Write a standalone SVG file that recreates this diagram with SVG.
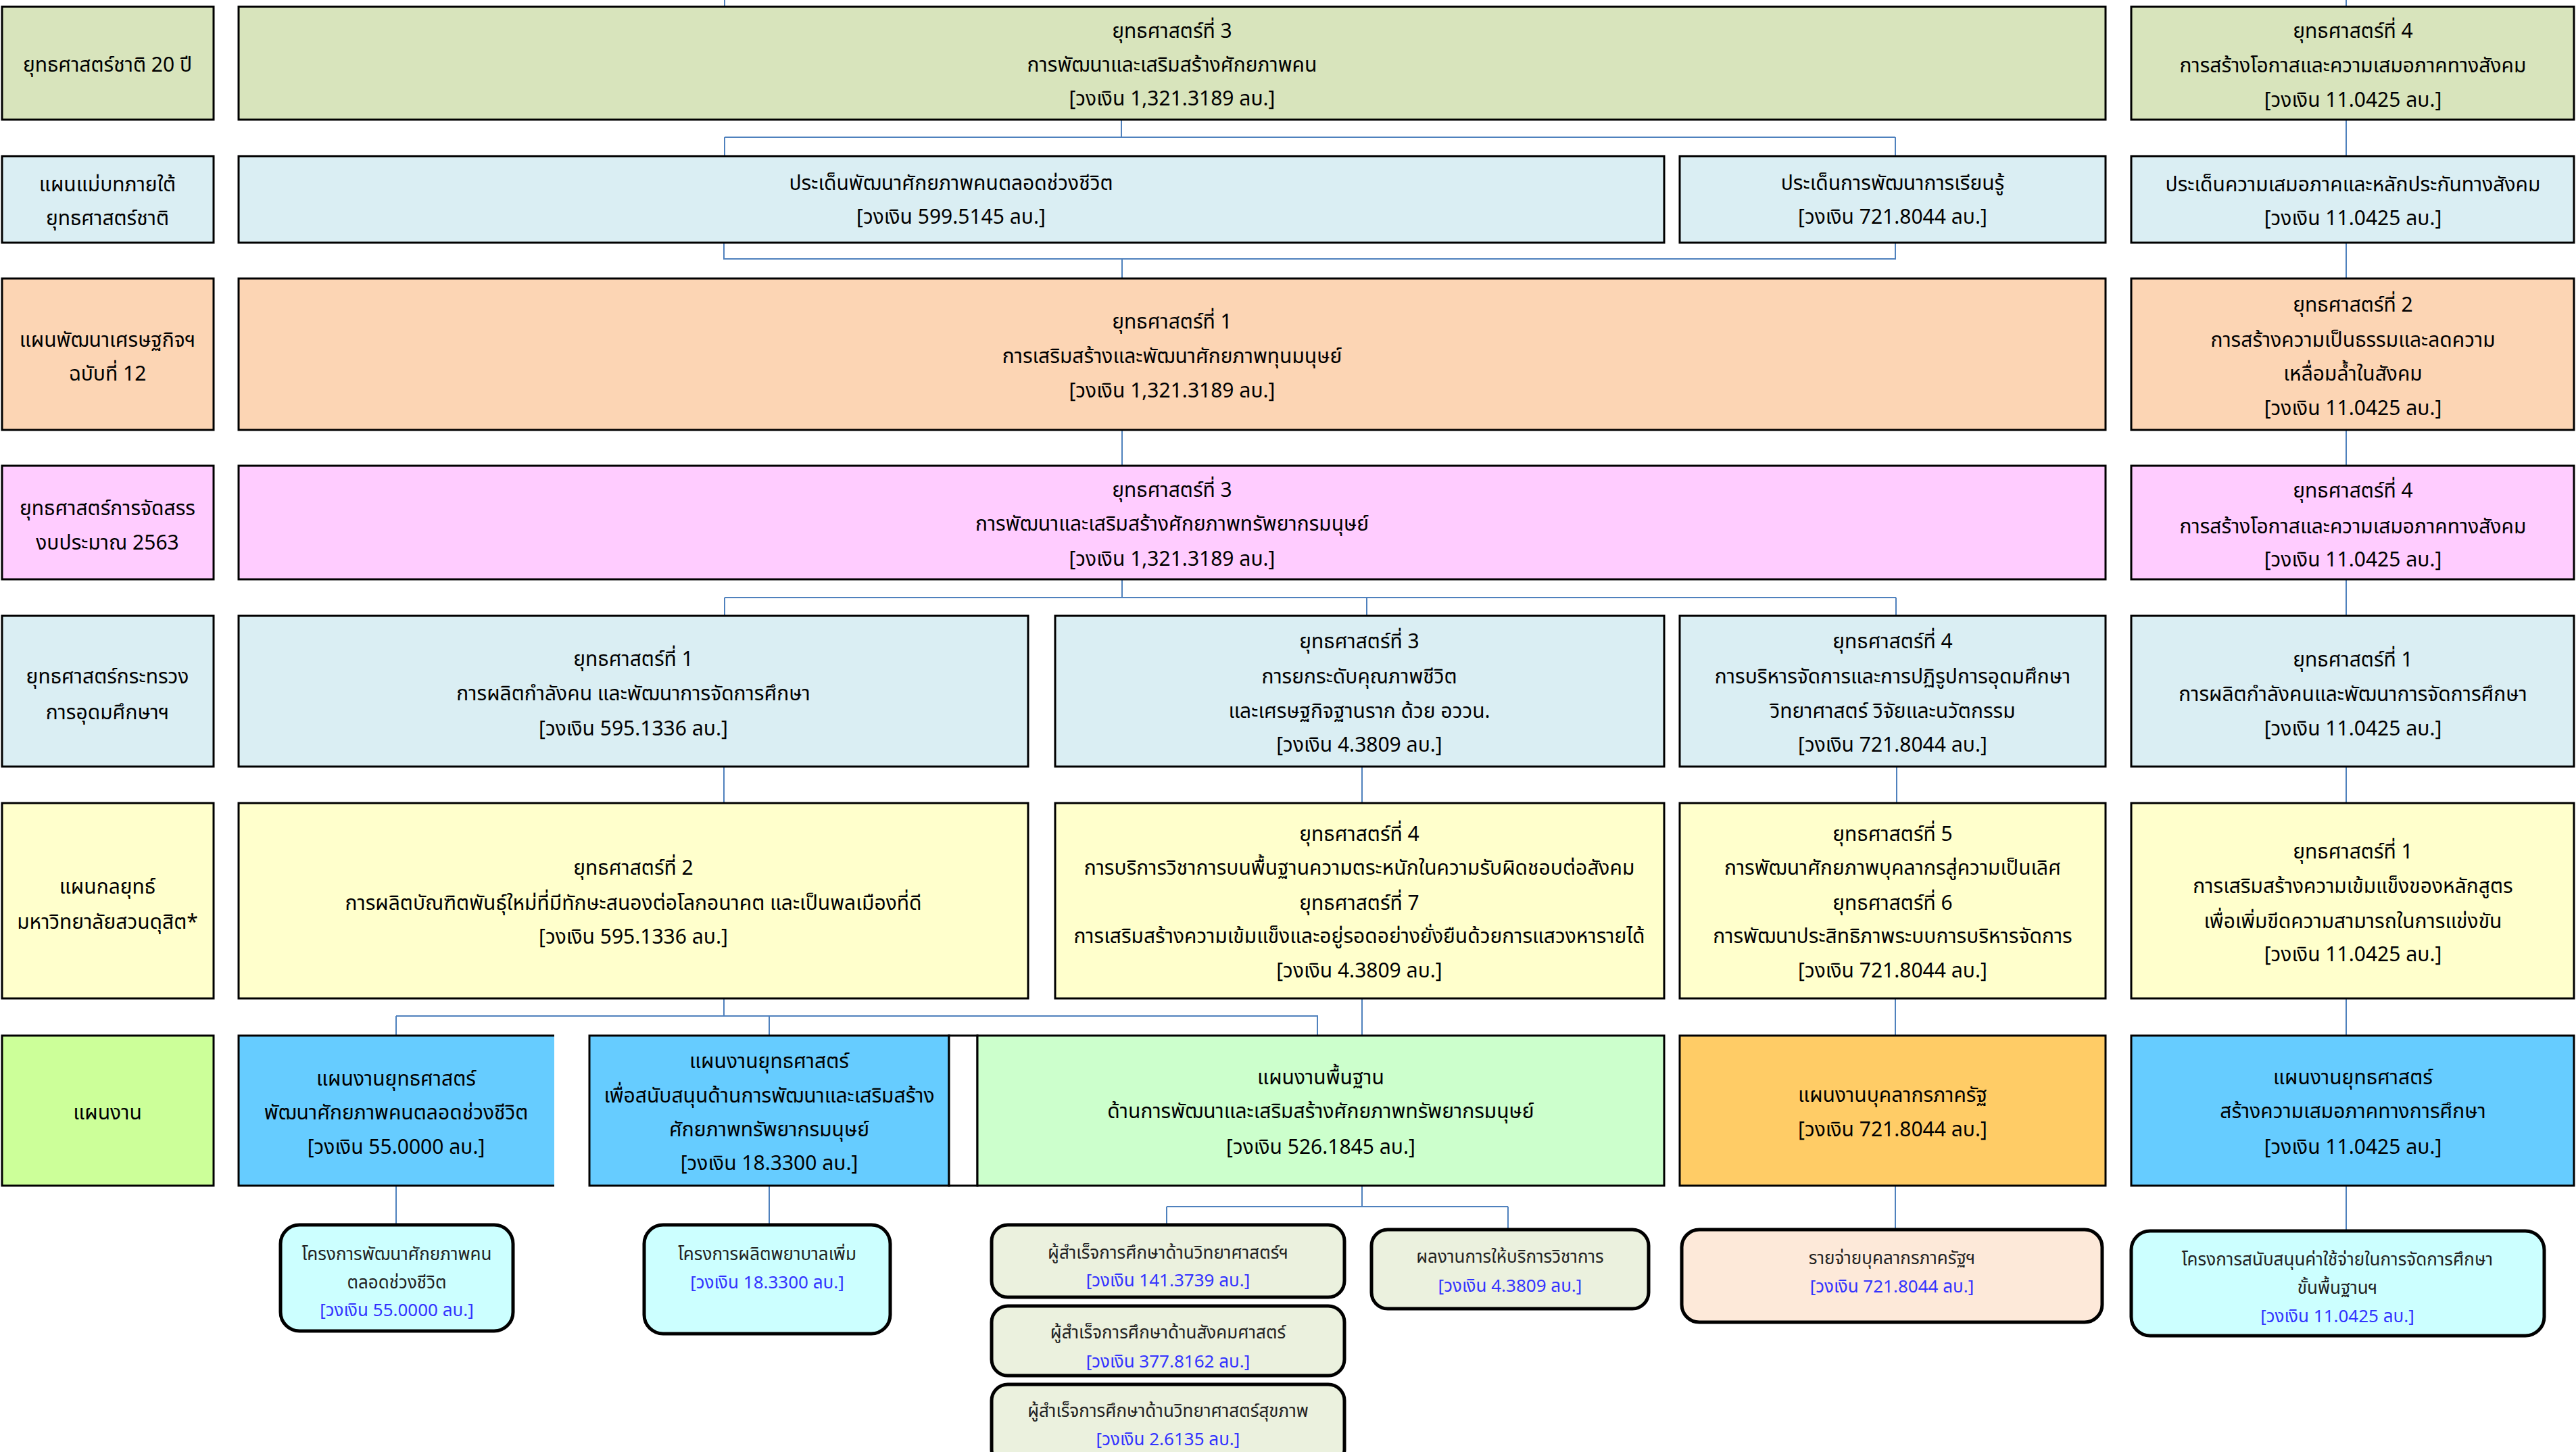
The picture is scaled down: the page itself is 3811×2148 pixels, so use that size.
<svg xmlns="http://www.w3.org/2000/svg" width="3811" height="2148" viewBox="0 0 3811 2148">
<style>
.b{stroke:#000;stroke-width:3}
.r{stroke:#000;stroke-width:5}
.g{fill:#D8E4BC}.lb{fill:#DAEEF3}.pe{fill:#FCD5B4}.pk{fill:#FFCCFF}.ye{fill:#FFFFCC}.lg{fill:#CCFF99}
.bl{fill:#66CCFF}.mg{fill:#CCFFCC}.or{fill:#FFCC66}.cy{fill:#CCFFFF}.gy{fill:#EBF1DE}.pb{fill:#FDE9D9}
text{font-family:Tahoma,"Noto Sans Thai","Loma","Garuda","DejaVu Sans",sans-serif;font-size:30px;fill:#000;text-anchor:middle}
text.s{font-size:26px;fill:#222}
tspan.m,text.m{fill:#3333FF}
.c{fill:none;stroke:#4F81BD;stroke-width:2}
</style>
<rect width="3811" height="2148" fill="#fff"/>
<g id="connectors">
<path class="c" d="M1072 0V10M3471 0V10M1659 177V203M1072 203H2804M1072 203V231M2804 203V231M3471 177V231M3471 359V412M3471 636V689M3471 857V911M3471 1134V1188M3471 1477V1532M3471 1754V1822M1071 359V383H2804V359M1660 383V412M1660 636V689M1660 857V884M1072 884H2805M1072 884V911M2022 884V911M2805 884V911M1071 1134V1188M2015 1134V1188M2806 1134V1188M1071 1477V1503M586 1503H1949V1532M586 1503V1532M1138 1503V1532M2015 1477V1532M2804 1477V1532M586 1754V1812M1138 1754V1812M2015 1754V1785M1726 1785H2231M1726 1785V1812M2231 1785V1819M2804 1754V1819"/>
</g>
<g id="label1"><rect class="b g" x="3" y="10" width="313" height="167"/><text x="159" y="106">ยุทธศาสตร์ชาติ 20 ปี</text></g>
<g id="label2"><rect class="b lb" x="3" y="231" width="313" height="128"/><text x="159" y="283">แผนแม่บทภายใต้</text><text x="159" y="333">ยุทธศาสตร์ชาติ</text></g>
<g id="label3"><rect class="b pe" x="3" y="412" width="313" height="224"/><text x="159" y="513">แผนพัฒนาเศรษฐกิจฯ</text><text x="159" y="563">ฉบับที่ 12</text></g>
<g id="label4"><rect class="b pk" x="3" y="689" width="313" height="168"/><text x="159" y="762">ยุทธศาสตร์การจัดสรร</text><text x="159" y="813">งบประมาณ 2563</text></g>
<g id="label5"><rect class="b lb" x="3" y="911" width="313" height="223"/><text x="159" y="1011">ยุทธศาสตร์กระทรวง</text><text x="159" y="1064">การอุดมศึกษาฯ</text></g>
<g id="label6"><rect class="b ye" x="3" y="1188" width="313" height="289"/><text x="159" y="1322">แผนกลยุทธ์</text><text x="159" y="1374">มหาวิทยาลัยสวนดุสิต*</text></g>
<g id="label7"><rect class="b lg" x="3" y="1532" width="313" height="222"/><text x="159" y="1656">แผนงาน</text></g>

<g id="ns3"><rect class="b g" x="353" y="10" width="2762" height="167"/><text x="1734" y="56">ยุทธศาสตร์ที่ 3</text><text x="1734" y="106">การพัฒนาและเสริมสร้างศักยภาพคน</text><text x="1734" y="156">[วงเงิน 1,321.3189 ลบ.]</text></g>
<g id="ns4"><rect class="b g" x="3153" y="10" width="655" height="167"/><text x="3481" y="56">ยุทธศาสตร์ที่ 4</text><text x="3481" y="107">การสร้างโอกาสและความเสมอภาคทางสังคม</text><text x="3481" y="158">[วงเงิน 11.0425 ลบ.]</text></g>

<g id="mp1"><rect class="b lb" x="353" y="231" width="2109" height="128"/><text x="1407" y="281">ประเด็นพัฒนาศักยภาพคนตลอดช่วงชีวิต</text><text x="1407" y="331">[วงเงิน 599.5145 ลบ.]</text></g>
<g id="mp2"><rect class="b lb" x="2485" y="231" width="630" height="128"/><text x="2800" y="281">ประเด็นการพัฒนาการเรียนรู้</text><text x="2800" y="331">[วงเงิน 721.8044 ลบ.]</text></g>
<g id="mp3"><rect class="b lb" x="3153" y="231" width="655" height="128"/><text x="3481" y="283">ประเด็นความเสมอภาคและหลักประกันทางสังคม</text><text x="3481" y="333">[วงเงิน 11.0425 ลบ.]</text></g>

<g id="ed1"><rect class="b pe" x="353" y="412" width="2762" height="224"/><text x="1734" y="486">ยุทธศาสตร์ที่ 1</text><text x="1734" y="537">การเสริมสร้างและพัฒนาศักยภาพทุนมนุษย์</text><text x="1734" y="588">[วงเงิน 1,321.3189 ลบ.]</text></g>
<g id="ed2"><rect class="b pe" x="3153" y="412" width="655" height="224"/><text x="3481" y="461">ยุทธศาสตร์ที่ 2</text><text x="3481" y="513">การสร้างความเป็นธรรมและลดความ</text><text x="3481" y="563">เหลื่อมล้ำในสังคม</text><text x="3481" y="614">[วงเงิน 11.0425 ลบ.]</text></g>

<g id="bs3"><rect class="b pk" x="353" y="689" width="2762" height="168"/><text x="1734" y="735">ยุทธศาสตร์ที่ 3</text><text x="1734" y="785">การพัฒนาและเสริมสร้างศักยภาพทรัพยากรมนุษย์</text><text x="1734" y="837">[วงเงิน 1,321.3189 ลบ.]</text></g>
<g id="bs4"><rect class="b pk" x="3153" y="689" width="655" height="168"/><text x="3481" y="736">ยุทธศาสตร์ที่ 4</text><text x="3481" y="789">การสร้างโอกาสและความเสมอภาคทางสังคม</text><text x="3481" y="838">[วงเงิน 11.0425 ลบ.]</text></g>

<g id="mh1"><rect class="b lb" x="353" y="911" width="1168" height="223"/><text x="937" y="985">ยุทธศาสตร์ที่ 1</text><text x="937" y="1036">การผลิตกำลังคน และพัฒนาการจัดการศึกษา</text><text x="937" y="1088">[วงเงิน 595.1336 ลบ.]</text></g>
<g id="mh3"><rect class="b lb" x="1561" y="911" width="901" height="223"/><text x="2011" y="959">ยุทธศาสตร์ที่ 3</text><text x="2011" y="1011">การยกระดับคุณภาพชีวิต</text><text x="2011" y="1062">และเศรษฐกิจฐานราก ด้วย อววน.</text><text x="2011" y="1112">[วงเงิน 4.3809 ลบ.]</text></g>
<g id="mh4"><rect class="b lb" x="2485" y="911" width="630" height="223"/><text x="2800" y="959">ยุทธศาสตร์ที่ 4</text><text x="2800" y="1011">การบริหารจัดการและการปฏิรูปการอุดมศึกษา</text><text x="2800" y="1062">วิทยาศาสตร์ วิจัยและนวัตกรรม</text><text x="2800" y="1112">[วงเงิน 721.8044 ลบ.]</text></g>
<g id="mh1r"><rect class="b lb" x="3153" y="911" width="655" height="223"/><text x="3481" y="986">ยุทธศาสตร์ที่ 1</text><text x="3481" y="1037">การผลิตกำลังคนและพัฒนาการจัดการศึกษา</text><text x="3481" y="1088">[วงเงิน 11.0425 ลบ.]</text></g>

<g id="sp2"><rect class="b ye" x="353" y="1188" width="1168" height="289"/><text x="937" y="1294">ยุทธศาสตร์ที่ 2</text><text x="937" y="1346">การผลิตบัณฑิตพันธุ์ใหม่ที่มีทักษะสนองต่อโลกอนาคต และเป็นพลเมืองที่ดี</text><text x="937" y="1396">[วงเงิน 595.1336 ลบ.]</text></g>
<g id="sp47"><rect class="b ye" x="1561" y="1188" width="901" height="289"/><text x="2011" y="1244">ยุทธศาสตร์ที่ 4</text><text x="2011" y="1294">การบริการวิชาการบนพื้นฐานความตระหนักในความรับผิดชอบต่อสังคม</text><text x="2011" y="1346">ยุทธศาสตร์ที่ 7</text><text x="2011" y="1395">การเสริมสร้างความเข้มแข็งและอยู่รอดอย่างยั่งยืนด้วยการแสวงหารายได้</text><text x="2011" y="1446">[วงเงิน 4.3809 ลบ.]</text></g>
<g id="sp56"><rect class="b ye" x="2485" y="1188" width="630" height="289"/><text x="2800" y="1244">ยุทธศาสตร์ที่ 5</text><text x="2800" y="1294">การพัฒนาศักยภาพบุคลากรสู่ความเป็นเลิศ</text><text x="2800" y="1346">ยุทธศาสตร์ที่ 6</text><text x="2800" y="1395">การพัฒนาประสิทธิภาพระบบการบริหารจัดการ</text><text x="2800" y="1446">[วงเงิน 721.8044 ลบ.]</text></g>
<g id="sp1r"><rect class="b ye" x="3153" y="1188" width="655" height="289"/><text x="3481" y="1270">ยุทธศาสตร์ที่ 1</text><text x="3481" y="1321">การเสริมสร้างความเข้มแข็งของหลักสูตร</text><text x="3481" y="1373">เพื่อเพิ่มขีดความสามารถในการแข่งขัน</text><text x="3481" y="1422">[วงเงิน 11.0425 ลบ.]</text></g>

<g id="wp1"><rect class="bl" x="353" y="1532" width="467" height="222"/><path class="b" fill="none" d="M820 1532H353V1754H820"/><text x="586" y="1606">แผนงานยุทธศาสตร์</text><text x="586" y="1656">พัฒนาศักยภาพคนตลอดช่วงชีวิต</text><text x="586" y="1707">[วงเงิน 55.0000 ลบ.]</text></g>
<g id="wp2"><rect class="b bl" x="872" y="1532" width="532" height="222"/><text x="1138" y="1580">แผนงานยุทธศาสตร์</text><text x="1138" y="1631">เพื่อสนับสนุนด้านการพัฒนาและเสริมสร้าง</text><text x="1138" y="1681">ศักยภาพทรัพยากรมนุษย์</text><text x="1138" y="1731">[วงเงิน 18.3300 ลบ.]</text></g>
<g id="gap"><rect class="b" fill="#fff" x="1404" y="1532" width="42" height="222"/></g>
<g id="wp3"><rect class="b mg" x="1446" y="1532" width="1016" height="222"/><text x="1954" y="1604">แผนงานพื้นฐาน</text><text x="1954" y="1654">ด้านการพัฒนาและเสริมสร้างศักยภาพทรัพยากรมนุษย์</text><text x="1954" y="1707">[วงเงิน 526.1845 ลบ.]</text></g>
<g id="wp4"><rect class="b or" x="2485" y="1532" width="630" height="222"/><text x="2800" y="1630">แผนงานบุคลากรภาครัฐ</text><text x="2800" y="1681">[วงเงิน 721.8044 ลบ.]</text></g>
<g id="wp5"><rect class="b bl" x="3153" y="1532" width="655" height="222"/><text x="3481" y="1604">แผนงานยุทธศาสตร์</text><text x="3481" y="1654">สร้างความเสมอภาคทางการศึกษา</text><text x="3481" y="1707">[วงเงิน 11.0425 ลบ.]</text></g>

<g id="pj1"><rect class="r cy" x="415" y="1812" width="344" height="157" rx="28"/><text class="s" x="587" y="1864">โครงการพัฒนาศักยภาพคน</text><text class="s" x="587" y="1906">ตลอดช่วงชีวิต</text><text class="s m" x="587" y="1947">[วงเงิน 55.0000 ลบ.]</text></g>
<g id="pj2"><rect class="r cy" x="953" y="1812" width="364" height="161" rx="28"/><text class="s" x="1135" y="1864">โครงการผลิตพยาบาลเพิ่ม</text><text class="s m" x="1135" y="1906">[วงเงิน 18.3300 ลบ.]</text></g>
<g id="pj3"><rect class="r gy" x="1467" y="1812" width="522" height="107" rx="24"/><text class="s" x="1728" y="1862">ผู้สำเร็จการศึกษาด้านวิทยาศาสตร์ฯ</text><text class="s m" x="1728" y="1903">[วงเงิน 141.3739 ลบ.]</text></g>
<g id="pj4"><rect class="r gy" x="1467" y="1932" width="522" height="103" rx="24"/><text class="s" x="1728" y="1980">ผู้สำเร็จการศึกษาด้านสังคมศาสตร์</text><text class="s m" x="1728" y="2023">[วงเงิน 377.8162 ลบ.]</text></g>
<g id="pj5"><rect class="r gy" x="1467" y="2048" width="522" height="120" rx="24"/><text class="s" x="1728" y="2096">ผู้สำเร็จการศึกษาด้านวิทยาศาสตร์สุขภาพ</text><text class="s m" x="1728" y="2138">[วงเงิน 2.6135 ลบ.]</text></g>
<g id="pj6"><rect class="r gy" x="2029" y="1819" width="410" height="117" rx="24"/><text class="s" x="2234" y="1868">ผลงานการให้บริการวิชาการ</text><text class="s m" x="2234" y="1911">[วงเงิน 4.3809 ลบ.]</text></g>
<g id="pj7"><rect class="r pb" x="2488" y="1819" width="622" height="137" rx="26"/><text class="s" x="2799" y="1870">รายจ่ายบุคลากรภาครัฐฯ</text><text class="s m" x="2799" y="1912">[วงเงิน 721.8044 ลบ.]</text></g>
<g id="pj8"><rect class="r cy" x="3153" y="1821" width="611" height="155" rx="28"/><text class="s" x="3458" y="1872">โครงการสนับสนุนค่าใช้จ่ายในการจัดการศึกษา</text><text class="s" x="3458" y="1914">ขั้นพื้นฐานฯ</text><text class="s m" x="3458" y="1956">[วงเงิน 11.0425 ลบ.]</text></g>
</svg>
